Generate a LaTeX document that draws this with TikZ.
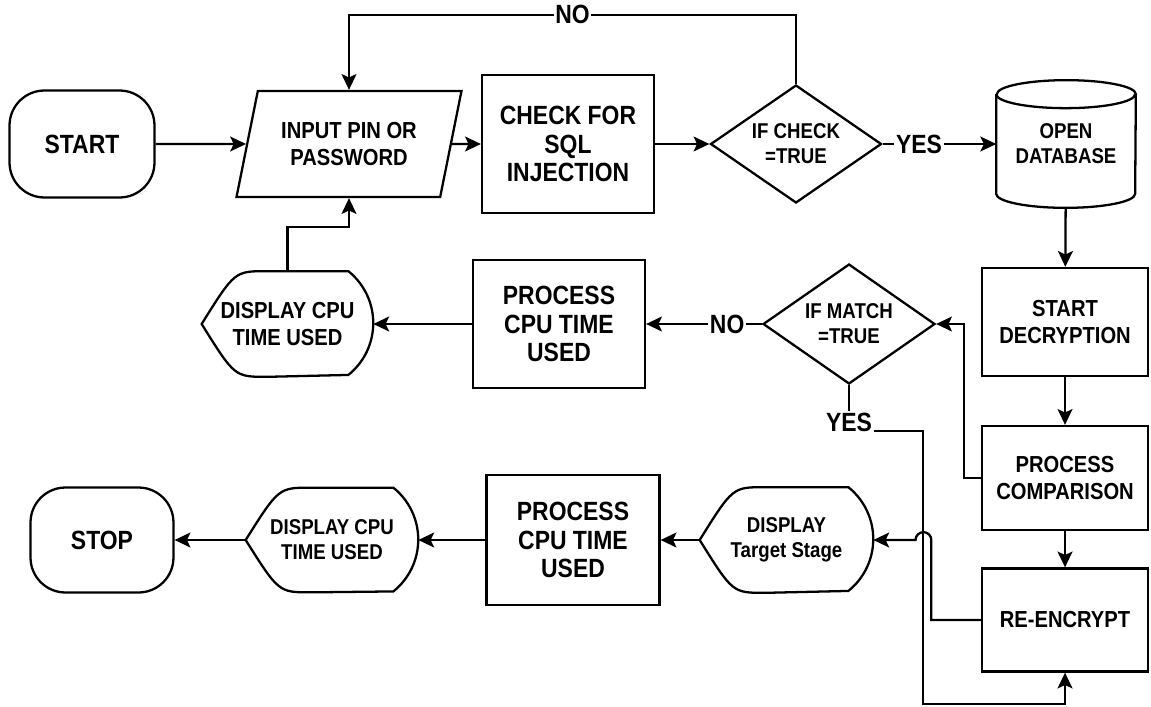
\documentclass[tikz,border=0pt]{standalone}
\usepackage{fontspec}
\newfontfamily\flowfont{Liberation Sans}[FakeStretch=0.87]
\usetikzlibrary{shapes.geometric,arrows.meta,calc}

\tikzset{
  fL/.style={font=\flowfont\bfseries\fontsize{15}{16.4}\selectfont},
  fM/.style={font=\flowfont\bfseries\fontsize{13.2}{15.5}\selectfont},
  fS/.style={font=\flowfont\bfseries\fontsize{12.2}{14.2}\selectfont},
  flowline/.style={line width=1.3pt},
  arr/.style={flowline, -{Stealth[length=9pt,width=8.5pt,inset=2pt]}},
  procbox/.style={draw, flowline, rectangle, align=center, inner sep=2pt},
  termbox/.style={draw, flowline, rectangle, rounded corners=0.7cm, align=center},
  decbox/.style={draw, flowline, diamond, aspect=1.45, align=center, inner sep=0pt},
  iobox/.style={draw, flowline, trapezium, trapezium left angle=64,
    trapezium right angle=116, trapezium stretches body, align=center, inner sep=0pt},
  dispbox/.style={rectangle, inner sep=0pt, align=center},
  lbl/.style={fill=white, inner sep=1pt, fL},
}

% outline of a display node
\newcommand{\drawdisplay}[1]{%
  \draw[flowline] (#1.west) .. controls ($(#1.north west)+(33,0)$) .. ($(#1.north west)+(65,0)$)
    -- ($(#1.north east)+(-25,0)$)
    arc[start angle=51.3, end angle=-51.3, radius=1.33cm]
    -- ($(#1.south west)+(65,0)$)
    .. controls ($(#1.south west)+(33,0)$) .. (#1.west) -- cycle;}

% outline of a database node
\newcommand{\drawcylinder}[1]{%
  \draw[flowline] ($(#1.north west)+(0,14)$) -- ($(#1.south west)+(0,-14)$)
    arc[start angle=180, end angle=360, x radius=1.39cm, y radius=0.28cm]
    -- ($(#1.north east)+(0,14)$)
    arc[start angle=0, end angle=180, x radius=1.39cm, y radius=0.28cm];
  \draw[flowline] ($(#1.north west)+(0,14)$)
    arc[start angle=180, end angle=360, x radius=1.39cm, y radius=0.28cm];}

\begin{document}
\begin{tikzpicture}[x=0.02cm, y=-0.02cm]
\useasboundingbox (0,0) rectangle (1151,706);

% first row
\node[termbox, fL, minimum width=2.9cm, minimum height=2.14cm] (start) at (82,144) {START};
\node[iobox, fM, minimum width=4.5cm, minimum height=2.12cm] (input) at (349,144) {INPUT PIN OR\\PASSWORD};
\node[procbox, fL, minimum width=3.44cm, minimum height=2.76cm] (check) at (568,144) {CHECK FOR\\SQL\\INJECTION};
\node[decbox, fS, minimum width=3.42cm, minimum height=2.36cm] (ifcheck) at (796,144) {IF CHECK\\=TRUE};
\node[dispbox, fS, minimum width=2.78cm, minimum height=2.54cm] (db) at (1066,144) {OPEN\\DATABASE};
\drawcylinder{db}

% right column
\node[procbox, fM, minimum width=3.32cm, minimum height=2.16cm] (decrypt) at (1065,322) {START\\DECRYPTION};
\node[procbox, fM, minimum width=3.32cm, minimum height=2.08cm] (compare) at (1065,478) {PROCESS\\COMPARISON};
\node[procbox, fM, minimum width=3.32cm, minimum height=2.06cm] (reenc) at (1065,620) {RE-ENCRYPT};

% middle row
\node[decbox, fS, minimum width=3.44cm, minimum height=2.4cm] (ifmatch) at (849,324) {IF MATCH\\=TRUE};
\node[procbox, fL, minimum width=3.44cm, minimum height=2.56cm] (proccpu1) at (559,324) {PROCESS\\CPU TIME\\USED};
\node[dispbox, fM, minimum width=3.42cm, minimum height=2.1cm] (disp1) at (287.5,324) {DISPLAY CPU\\TIME USED};

% bottom row
\node[dispbox, fS, minimum width=3.46cm, minimum height=2.1cm] (disp3) at (786.5,540) {DISPLAY\\Target Stage};
\node[procbox, fL, minimum width=3.46cm, minimum height=2.6cm] (proccpu2) at (573,540) {PROCESS\\CPU TIME\\USED};
\node[dispbox, fS, minimum width=3.44cm, minimum height=2.08cm] (disp2) at (332,540) {DISPLAY CPU\\TIME USED};
\node[termbox, fL, minimum width=2.86cm, minimum height=2.1cm] (stop) at (102,540) {STOP};

\drawdisplay{disp1}
\drawdisplay{disp2}
\drawdisplay{disp3}

% connectors
\draw[arr] (start) -- (input);
\draw[arr] (input) -- (check);
\draw[arr] (check) -- (ifcheck);
\draw[arr] (ifcheck) -- node[lbl, pos=0.32] {YES} (db);
\draw[arr] (ifcheck.north) -- ++(0,-69) -| node[lbl, pos=0.25] {NO} (input.north -| input.center);
\draw[arr] (db) -- (decrypt);
\draw[arr] (decrypt) -- (compare);
\draw[arr] (compare) -- (reenc);
\draw[arr] (compare.west) -- ++(-17,0) |- (ifmatch.east);
\draw[arr] (ifmatch) -- node[lbl, pos=0.3] {NO} (proccpu1);
\draw[arr] (proccpu1) -- (disp1);
\draw[arr] (disp1.north) -- ++(0,-44) -| (input.south -| input.center);

\node[lbl] (yesm) at (849,422) {YES};
\draw[flowline] (ifmatch.south) -- (yesm.north);
\draw[arr] (yesm.base east) -- ++(49,0) |- ($(reenc.south)+(0,31)$) -- (reenc.south);
\draw[arr] (reenc.west) -| ($(disp3.east)+(58,0)$) arc[start angle=0, end angle=180, radius=4.5pt] -- (disp3.east);

\draw[arr] (disp3) -- (proccpu2);
\draw[arr] (proccpu2) -- (disp2);
\draw[arr] (disp2) -- (stop);
\end{tikzpicture}
\end{document}
